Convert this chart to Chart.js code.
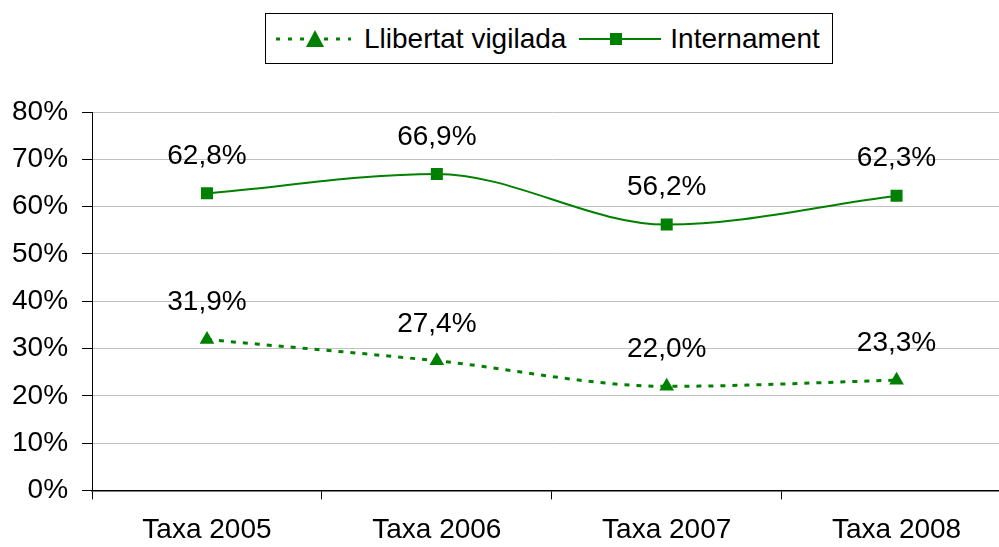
<!DOCTYPE html>
<html>
<head>
<meta charset="utf-8">
<script src="https://cdn.jsdelivr.net/npm/chart.js@4.4.1/dist/chart.umd.min.js"></script>
<style>
  html, body { margin: 0; padding: 0; background: #fff; overflow: hidden; }
  #wrap { position: relative; width: 999px; height: 547px; overflow: hidden; }
  #wrap canvas { position: absolute; left: -14px; top: 0; }
  #legend {
    position: absolute; left: 265px; top: 13px; width: 568px; height: 51px;
    border: 1px solid #000; box-sizing: border-box; background: #fff;
    font-family: "Liberation Sans", Arial, sans-serif; font-size: 28px; color: #000;
    display: flex; align-items: center; padding-left: 9px;
  }
  #legend .item { display: flex; align-items: center; }
</style>
</head>
<body>
<div id="wrap">
  <canvas id="chart" width="1034" height="561"></canvas>
  <div id="legend"></div>
</div>
<script>
// data
const categories = ['Taxa 2005', 'Taxa 2006', 'Taxa 2007', 'Taxa 2008'];
const llibertat = [31.9, 27.4, 22.0, 23.3];
const internament = [62.8, 66.9, 56.2, 62.3];
const seriesNames = ['Llibertat vigilada', 'Internament'];
const yTicks = [0, 10, 20, 30, 40, 50, 60, 70, 80];

const green = '#008000';
const font = '"Liberation Sans", Arial, sans-serif';

function fmt(v){
    return v.toFixed(1).replace('.', ',') + '%';
}

// simple data labels above each point
const pointLabels = {
    id: 'pointLabels',
    afterDatasetsDraw(chart){
        const ctx = chart.ctx;
        ctx.save();
        ctx.font = '28px ' + font;
        ctx.fillStyle = '#000';
        ctx.textAlign = 'center';
        ctx.textBaseline = 'middle';
        chart.data.datasets.forEach((ds, i) => {
            const meta = chart.getDatasetMeta(i);
            meta.data.forEach((pt, j) => {
                ctx.fillText(fmt(ds.data[j]), pt.x, pt.y - 37);
            });
        });
        ctx.restore();
    }
};

const ctx = document.getElementById('chart').getContext('2d');
const myChart = new Chart(ctx, {
    type: 'line',
    data: {
        labels: categories,
        datasets: [{
            label: seriesNames[0],
            data: llibertat,
            borderColor: green,
            backgroundColor: green,
            borderWidth: 3,
            borderDash: [5, 7],
            pointStyle: 'triangle',
            pointRadius: 8.5,
            pointBorderWidth: 0,
            cubicInterpolationMode: 'monotone'
        }, {
            label: seriesNames[1],
            data: internament,
            borderColor: green,
            backgroundColor: green,
            borderWidth: 2,
            pointStyle: 'rect',
            pointRadius: 8.5,
            pointBorderWidth: 0,
            cubicInterpolationMode: 'monotone'
        }]
    },
    options: {
        responsive: false,
        animation: false,
        layout: { padding: { top: 112, left: 12, right: 8, bottom: 0 } },
        plugins: {
            legend: { display: false },
            tooltip: { enabled: false }
        },
        scales: {
            x: {
                offset: true,
                grid: {
                    offset: true,
                    drawOnChartArea: false,
                    tickLength: 9,
                    tickColor: '#000'
                },
                border: { color: '#000', width: 1.5 },
                ticks: {
                    color: '#000',
                    font: { family: font, size: 28 },
                    padding: 14
                }
            },
            y: {
                min: 0,
                max: 80,
                afterBuildTicks(axis){
                    axis.ticks = yTicks.map(v => ({ value: v }));
                },
                grid: {
                    color: '#c0c0c0',
                    tickColor: '#000',
                    tickLength: 10
                },
                border: { color: '#000', width: 1 },
                ticks: {
                    color: '#000',
                    font: { family: font, size: 28 },
                    padding: 14,
                    callback: v => v + '%'
                }
            }
        }
    },
    plugins: [pointLabels]
});

// html legend with a box round it
const legend = document.getElementById('legend');
legend.innerHTML =
    '<div class="item"><svg width="76" height="20" style="margin-right:13px">' +
    '<line x1="1" y1="10" x2="76" y2="10" stroke="' + green + '" stroke-width="3" stroke-dasharray="4,8"/>' +
    '<polygon points="40,1 49,18 31,18" fill="' + green + '"/></svg>' +
    '<span>' + seriesNames[0] + '</span></div>' +
    '<div class="item" style="margin-left:13px"><svg width="82" height="20" style="margin-right:9px">' +
    '<line x1="0" y1="10" x2="82" y2="10" stroke="' + green + '" stroke-width="2"/>' +
    '<rect x="31" y="4" width="12" height="12" fill="' + green + '"/></svg>' +
    '<span>' + seriesNames[1] + '</span></div>';
</script>
</body>
</html>
